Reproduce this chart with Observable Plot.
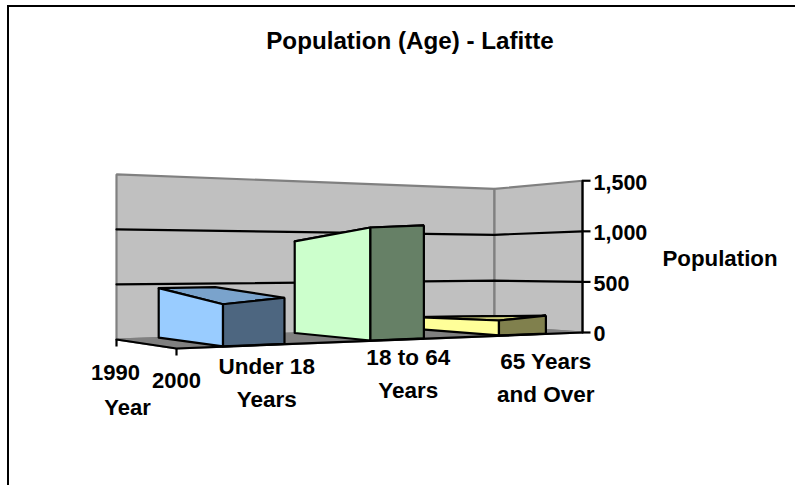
<!DOCTYPE html>
<html>
<head>
<meta charset="utf-8">
<script src="https://cdn.jsdelivr.net/npm/d3@7"></script>
<script src="https://cdn.jsdelivr.net/npm/@observablehq/plot@0.6"></script>
<style>html,body{margin:0;padding:0;background:#fff}svg{display:block}</style>
</head>
<body>
<div id="chart"></div>
<script>
// ---- Values ----
const titleText = "Population (Age) - Lafitte";
const categories = ["Under 18\nYears", "18 to 64\nYears", "65 Years\nand Over"];
const seriesLabels = ["1990", "2000"];
const valueTicks = [0, 500, 1000, 1500];
const maxValue = 1500;
// The 3-D bars in the picture do not have level tops: population read at each top corner.
const populationFront = [348, 1004, 142];
const populationRight = [393, 1031, 175];
const populationBackLeft = [461, 908, 123];
const populationBackRight = [465, 930, 118];
const faceColors = [
  {side: "#99CCFF", end: "#4D6680", top: "#7AA3CC"},
  {side: "#CCFFCC", end: "#668066", top: "#A3CCA3"},
  {side: "#FFFF99", end: "#80804D", top: "#CCCC7A"}
];

// ---- Perspective of the chart's 3-D box ----
// u runs along the categories (0..3), v runs back into the depth (0..1).
const cornerFrontLeft = [176, 348], cornerFrontRight = [582, 332],
      cornerBackRight = [494, 326], cornerBackLeft = [116, 339];
const fullHeight = 186;
const [x0, y0] = cornerFrontLeft, [x1, y1] = cornerFrontRight,
      [x2, y2] = cornerBackRight, [x3, y3] = cornerBackLeft;
const det = (x1 - x2) * (y3 - y2) - (x3 - x2) * (y1 - y2);
const sx = x0 - x1 + x2 - x3, sy = y0 - y1 + y2 - y3;
const g = (sx * (y3 - y2) - (x3 - x2) * sy) / det;
const h = ((x1 - x2) * sy - sx * (y1 - y2)) / det;
function project(u, v, value) {
  const s = u / categories.length;
  const w = g * s + h * v + 1;
  return {
    x: ((x1 - x0 + g * x1) * s + (x3 - x0 + h * x3) * v + x0) / w,
    y: ((y1 - y0 + g * y1) * s + (y3 - y0 + h * y3) * v + y0) / w - (value / maxValue) * fullHeight / w
  };
}

// ---- Build polygons ----
const polys = [];
function poly(id, fill, stroke, corners) {
  [...corners, corners[0]].forEach((c, i) => polys.push({id, order: i, fill, stroke, ...project(...c)}));
}
const n = categories.length;
const layer = (name) => polys.filter(d => d.id.startsWith(name));

poly("wall-back", "#C0C0C0", "#808080", [[0,1,0],[n,1,0],[n,1,maxValue],[0,1,maxValue]]);
poly("wall-side", "#C0C0C0", "#808080", [[n,1,0],[n,0,0],[n,0,maxValue],[n,1,maxValue]]);
poly("floor", "#808080", "#808080", [[0,0,0],[n,0,0],[n,1,0],[0,1,0]]);

const gapU = 0.3, frontV = 0.03, backV = 1.04;
const gridLines = [];
valueTicks.filter(t => t > 0 && t < maxValue).forEach(t => {
  [[0,1],[n,1],[n,0]].forEach(([u, v], i) => gridLines.push({t, i, ...project(u, v, t)}));
});

d3.range(n).forEach(i => {
  const a = i + gapU, b = i + 1 - gapU, c = faceColors[i];
  poly(`bar${i}-top`, c.top, "#000", [
    [a, backV, populationBackLeft[i]], [b, backV, populationBackRight[i]],
    [b, frontV, populationRight[i]], [a, frontV, populationFront[i]]]);
  poly(`bar${i}-side`, c.side, "#000", [
    [a, backV, 0], [a, frontV, 0], [a, frontV, populationFront[i]], [a, backV, populationBackLeft[i]]]);
  poly(`bar${i}-end`, c.end, "#000", [
    [a, frontV, 0], [b, frontV, 0], [b, frontV, populationRight[i]], [a, frontV, populationFront[i]]]);
});

const axisLine = [[0,1,0],[0,0,0],[n,0,0]].map(c => project(...c));
const valueAxis = [[n,0,0],[n,0,maxValue]].map(c => project(...c));
const valueTickMarks = valueTicks.map(t => ({value: t, ...project(n, 0, t)}));
const depthTicks = [[0,1],[0,0]].map(([u, v]) => project(u, v, 0));

const font = {fontFamily: "'Liberation Sans', Arial, sans-serif", fontWeight: "bold", fill: "#000"};

// label placement offsets (pixels from the projected anchor)
const catOffsetX = [-9, -14, -4], catOffsetY = [32, 29, 38];
const catLabels = categories.map((text, i) => {
  const p = project(i + 0.5, -0.25, 0);
  return {text, x: p.x + catOffsetX[i], y: p.y + catOffsetY[i]};
});
const seriesText = seriesLabels.map((text, i) => {
  const p = project(0, 1 - i, 0);
  return {text, x: p.x + [-1, 0][i], y: p.y + [33, 32][i]};
});

const polyMark = (rows) => Plot.line(rows, {
  x: "x", y: "y", z: "id", fill: "fill", stroke: "stroke", strokeWidth: 2.2,
  strokeLinejoin: "miter", curve: "linear"
});

const plot = Plot.plot({
  width: 795, height: 485,
  marginTop: 0, marginRight: 0, marginBottom: 0, marginLeft: 0,
  x: {domain: [0, 795], range: [0, 795], axis: null},
  y: {domain: [0, 485], range: [0, 485], axis: null},
  color: {type: "identity"},
  style: {background: "#fff"},
  marks: [
    Plot.ruleY([5.5], {x1: 7, x2: 795, stroke: "#000", strokeWidth: 2}),
    Plot.ruleX([7.5], {y1: 5, y2: 485, stroke: "#000", strokeWidth: 2}),
    polyMark(layer("wall")),
    polyMark(layer("floor")),
    Plot.line(gridLines, {x: "x", y: "y", z: "t", stroke: "#000", strokeWidth: 2.2}),
    ...[2, 1, 0].flatMap(i => [polyMark(layer(`bar${i}-top`)), polyMark(layer(`bar${i}-side`)), polyMark(layer(`bar${i}-end`))]),
    Plot.line(axisLine, {x: "x", y: "y", stroke: "#000", strokeWidth: 2.2, strokeLinejoin: "miter"}),
    Plot.line(valueAxis, {x: "x", y: "y", stroke: "#000", strokeWidth: 2.2}),
    Plot.link(valueTickMarks, {x1: "x", y1: "y", x2: d => d.x + 8, y2: "y", stroke: "#000", strokeWidth: 2.2}),
    Plot.link(depthTicks, {x1: "x", y1: "y", x2: "x", y2: d => d.y + 7, stroke: "#000", strokeWidth: 2.2}),
    Plot.text(valueTickMarks, {x: "x", y: "y", dx: 11, dy: 2, text: d => d3.format(",")(d.value), textAnchor: "start", fontSize: 21.5, ...font}),
    Plot.text(catLabels, {x: "x", y: "y", text: "text", lineHeight: 1.48, fontSize: 22.5, ...font}),
    Plot.text(seriesText, {x: "x", y: "y", text: "text", fontSize: 22, ...font}),
    Plot.text(["Year"], {x: () => 127, y: () => 407, fontSize: 22, ...font}),
    Plot.text(["Population"], {x: () => 719.5, y: () => 258, fontSize: 22.3, ...font}),
    Plot.text([titleText], {x: () => 409.5, y: () => 41, fontSize: 24.2, ...font})
  ]
});
document.getElementById("chart").append(plot);
</script>
</body>
</html>
